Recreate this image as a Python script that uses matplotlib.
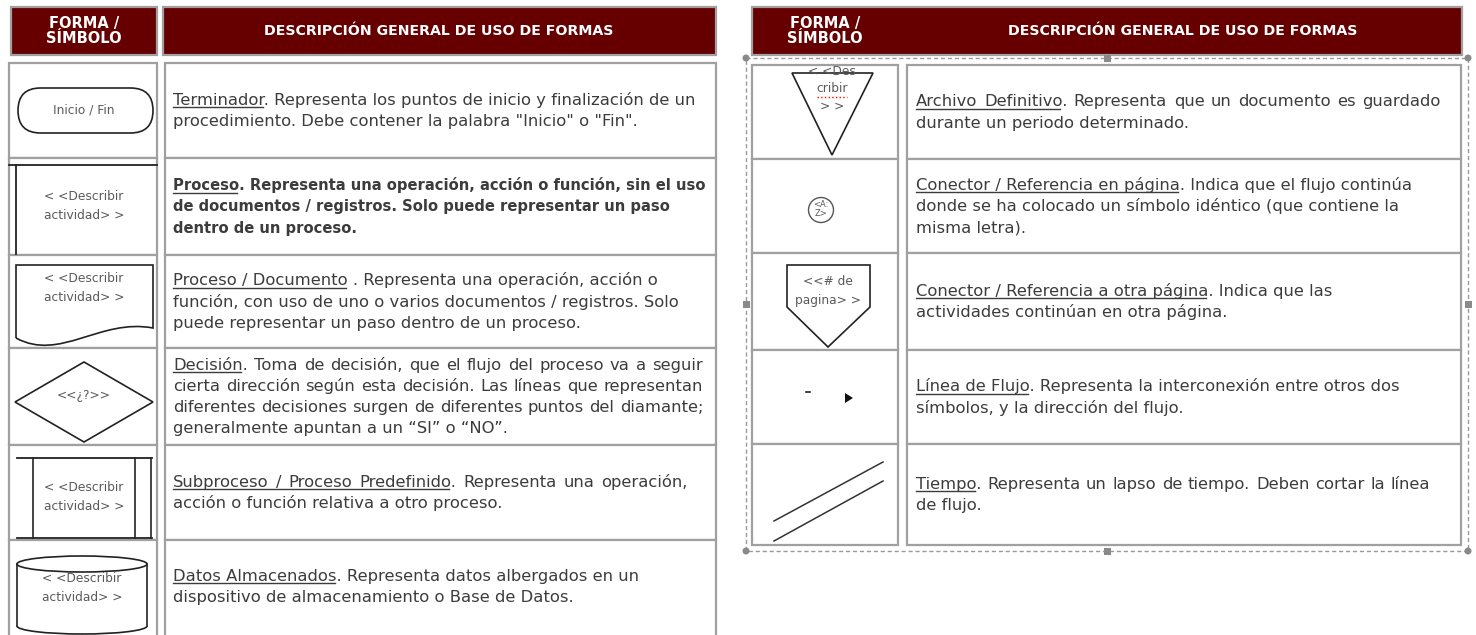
import matplotlib.pyplot as plt
from matplotlib.patches import Rectangle, FancyBboxPatch, Polygon, Ellipse, Circle, PathPatch, Arc
from matplotlib.path import Path

plt.rcParams['font.family'] = 'DejaVu Sans'

# table contents
header_symbol = "FORMA /\nSÍMBOLO"
header_desc = "DESCRIPCIÓN GENERAL DE USO DE FORMAS"

left_titles = ["Terminador", "Proceso", "Proceso / Documento ", "Decisión",
               "Subproceso / Proceso Predefinido", "Datos Almacenados"]
left_lines = [
    ["Terminador. Representa los puntos de inicio y finalización de un",
     "procedimiento. Debe contener la palabra \"Inicio\" o \"Fin\"."],
    ["Proceso. Representa una operación, acción o función, sin el uso",
     "de documentos / registros. Solo puede representar un paso",
     "dentro de un proceso."],
    ["Proceso / Documento . Representa una operación, acción o",
     "función, con uso de uno o varios documentos / registros. Solo",
     "puede representar un paso dentro de un proceso."],
    ["Decisión. Toma de decisión, que el flujo del proceso va a seguir",
     "cierta dirección según esta decisión. Las líneas que representan",
     "diferentes decisiones surgen de diferentes puntos del diamante;",
     "generalmente apuntan a un “SI” o “NO”."],
    ["Subproceso / Proceso Predefinido. Representa una operación,",
     "acción o función relativa a otro proceso."],
    ["Datos Almacenados. Representa datos albergados en un",
     "dispositivo de almacenamiento o Base de Datos."],
]
left_bold = [False, True, False, False, False, False]
left_labels = ["Inicio / Fin", "< <Describir\nactividad> >", "< <Describir\nactividad> >",
               "<<¿?>>", "< <Describir\nactividad> >", "< <Describir\nactividad> >"]

right_titles = ["Archivo Definitivo", "Conector / Referencia en página",
                "Conector / Referencia a otra página", "Línea de Flujo", "Tiempo"]
right_lines = [
    ["Archivo Definitivo. Representa que un documento es guardado",
     "durante un periodo determinado."],
    ["Conector / Referencia en página. Indica que el flujo continúa",
     "donde se ha colocado un símbolo idéntico (que contiene la",
     "misma letra)."],
    ["Conector / Referencia a otra página. Indica que las",
     "actividades continúan en otra página."],
    ["Línea de Flujo. Representa la interconexión entre otros dos",
     "símbolos, y la dirección del flujo."],
    ["Tiempo. Representa un lapso de tiempo. Deben cortar la línea",
     "de flujo."],
]
right_labels = ["< <Des\ncribir\n> >", "<A:\nZ>", "<<# de\npagina> >", "", ""]

# layout (pixels)
left_rows = [63, 158, 255, 348, 445, 540, 660]
right_rows = [65, 159, 253, 350, 444, 545]
left_justify = {3: 703, 4: 688}
right_justify = {0: 1441, 4: 1430}

RED = '#660000'
GRID = '#a0a0a0'
TXT = '#3c3c3c'
SYM = '#5a5a5a'
FS = 11.8
FS_BOLD = 10.6
LH = 21.3

fig = plt.figure(figsize=(14.76, 6.35), dpi=100)
ax = fig.add_axes([0, 0, 1, 1])
ax.set_xlim(0, 1476)
ax.set_ylim(635, 0)
ax.axis('off')
renderer = fig.canvas.get_renderer()


def measure(s, weight, fs):
    t = ax.text(0, 0, s, fontsize=fs, fontweight=weight)
    w = t.get_window_extent(renderer).width
    t.remove()
    return w


def cell(x0, x1, y0, y1, fc='white'):
    ax.add_patch(Rectangle((x0, y0), x1 - x0, y1 - y0, fc=fc, ec=GRID, lw=1.6))


def description(x, y0, y1, title, lines, bold=False, right=None):
    weight = 'bold' if bold else 'normal'
    fs = FS_BOLD if bold else FS
    n = len(lines)
    yc = (y0 + y1) / 2
    tw = title.split()
    u_end = x + measure(title.rstrip(), weight, fs) - 2
    for i, line in enumerate(lines):
        yb = yc + (i - (n - 1) / 2) * LH + 5
        if right is not None and i < n - 1:
            words = line.split(' ')
            ws = [measure(w, weight, fs) for w in words]
            gap = (right - x - sum(ws)) / (len(words) - 1)
            px = x
            for k, (w, wd) in enumerate(zip(words, ws)):
                ax.text(px, yb, w, fontsize=fs, color=TXT, va='baseline', fontweight=weight)
                if i == 0 and k == len(tw) - 1:
                    u_end = px + measure(tw[-1], weight, fs) - 2
                px += wd + gap
        else:
            ax.text(x, yb, line, fontsize=fs, color=TXT, va='baseline', fontweight=weight)
    # underline of the title
    yb = yc - (n - 1) / 2 * LH + 5
    ax.plot([x, u_end], [yb + 2.5, yb + 2.5], color=TXT, lw=1)


def label(x, y, s, fs=8.8, sp=19):
    parts = s.split('\n')
    n = len(parts)
    for i, p in enumerate(parts):
        ax.text(x, y + (i - (n - 1) / 2) * sp, p, fontsize=fs, color=SYM,
                ha='center', va='center')


# ---------- left table ----------
cell(11, 157, 7, 55, fc=RED)
cell(163, 716, 7, 55, fc=RED)
ax.text(84, 31, header_symbol, color='white', fontsize=10.5, fontweight='bold',
        ha='center', va='center', linespacing=1.05)
ax.text(439, 31, header_desc, color='white', fontsize=10.2, fontweight='bold',
        ha='center', va='center')

for i in range(len(left_titles)):
    y0, y1 = left_rows[i], left_rows[i + 1]
    cell(9, 157, y0, y1)
    cell(165, 716, y0, y1)
    description(173, y0, min(y1, 633), left_titles[i], left_lines[i],
                left_bold[i], left_justify.get(i))

# terminador
ax.add_patch(FancyBboxPatch((18, 88), 135, 45, boxstyle="round,pad=0,rounding_size=22.5",
                            fc='white', ec='#222222', lw=1.2))
label(84, 110, left_labels[0])
# proceso
ax.plot([9, 157], [165, 165], color='#222222', lw=1.3)
ax.plot([16, 16], [165, 254], color='#222222', lw=1.3)
label(84, 206, left_labels[1])
# documento
doc = Path([(16, 338), (16, 265), (153, 265), (153, 328), (100, 318), (60, 362), (16, 338)],
           [Path.MOVETO, Path.LINETO, Path.LINETO, Path.LINETO, Path.CURVE4, Path.CURVE4, Path.CURVE4])
ax.add_patch(PathPatch(doc, fc='white', ec='#222222', lw=1.2))
label(84, 288, left_labels[2])
# decision
ax.add_patch(Polygon([(84, 362), (153, 402), (84, 442), (15, 402)], closed=True,
                     fc='white', ec='#222222', lw=1.2))
label(84, 395, left_labels[3])
# subproceso
ax.plot([17, 152], [458, 458], color='#222222', lw=1.3)
ax.plot([17, 152], [538, 538], color='#222222', lw=1.3)
for xv in [33, 135, 151]:
    ax.plot([xv, xv], [458, 538], color='#222222', lw=1.2)
label(84, 497, left_labels[4])
# datos almacenados
ax.plot([17, 17], [564, 626], color='#222222', lw=1.2)
ax.plot([147, 147], [564, 626], color='#222222', lw=1.2)
ax.add_patch(Ellipse((82, 564), 130, 16, fc='white', ec='#222222', lw=1.2))
ax.add_patch(Arc((82, 626), 130, 16, theta1=0, theta2=180, color='#222222', lw=1.2))
label(82, 588, left_labels[5])

# ---------- right table ----------
cell(752, 1462, 7, 55, fc=RED)
ax.text(825, 31, header_symbol, color='white', fontsize=10.5, fontweight='bold',
        ha='center', va='center', linespacing=1.05)
ax.text(1183, 31, header_desc, color='white', fontsize=10.2, fontweight='bold',
        ha='center', va='center')

for i in range(len(right_titles)):
    y0, y1 = right_rows[i], right_rows[i + 1]
    cell(752, 898, y0, y1)
    cell(907, 1461, y0, y1)
    description(916, y0, y1, right_titles[i], right_lines[i], False, right_justify.get(i))

# archivo definitivo
ax.add_patch(Polygon([(792, 73), (873, 73), (832, 155)], closed=True,
                     fill=False, ec='#222222', lw=1.2))
label(832, 89, right_labels[0], sp=17.5)
ax.plot([817, 847], [97, 97], color='red', ls=':', lw=1)
# conector en pagina
ax.add_patch(Circle((821, 210), 12.5, fill=False, ec='#555555', lw=1))
label(821, 209, right_labels[1], fs=6, sp=8.5)
# conector a otra pagina
ax.add_patch(Polygon([(787, 265), (870, 265), (870, 307), (828, 347), (787, 307)], closed=True,
                     fill=False, ec='#222222', lw=1.2))
label(828, 291, right_labels[2])
# linea de flujo
ax.plot([806, 810], [392, 392], color='#222222', lw=1.2)
ax.add_patch(Polygon([(845, 393), (853, 398), (845, 403)], closed=True, fc='#111111', ec='none'))
# tiempo
ax.plot([774, 883], [521, 462], color='#333333', lw=1.1)
ax.plot([774, 883], [541, 481], color='#333333', lw=1.1)

# selection frame around the right table
ax.add_patch(Rectangle((746, 58), 722, 493, fill=False, ec='#9a9a9a', lw=1, ls=(0, (3, 2))))
for hx, hy in [(746, 58), (1468, 58), (746, 551), (1468, 551)]:
    ax.add_patch(Circle((hx, hy), 3.5, fc='#8a8a8a', ec='none'))
for hx, hy in [(1107, 58), (1107, 551), (746, 304), (1468, 304)]:
    ax.add_patch(Rectangle((hx - 3.5, hy - 3.5), 7, 7, fc='#8a8a8a', ec='none'))

plt.savefig("out.png", dpi=100)
